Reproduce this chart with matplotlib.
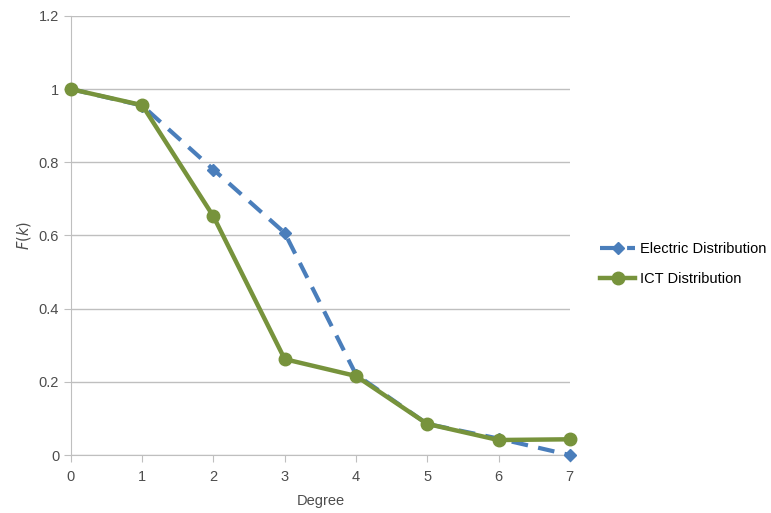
import matplotlib.pyplot as plt

plt.rcParams['font.family'] = ['Liberation Sans', 'DejaVu Sans']

degree = [0, 1, 2, 3, 4, 5, 6, 7]
electric = [1.0, 0.955, 0.78, 0.607, 0.22, 0.085, 0.045, 0.0]
ict = [1.0, 0.956, 0.652, 0.262, 0.216, 0.085, 0.041, 0.043]

fig = plt.figure(figsize=(7.71, 5.13), dpi=100)
ax = fig.add_axes([0.092, 0.113, 0.647, 0.856])

ax.plot(degree, electric, color='#4A7EBB', lw=3, ls=(0, (4, 2.5)), marker='D',
        markersize=6, label='Electric Distribution', zorder=3, clip_on=False)
ax.plot(degree, ict, color='#77933C', lw=3.2, marker='o', markersize=9,
        label='ICT Distribution', zorder=4, clip_on=False)

ax.set_xlim(0, 7)
ax.set_ylim(0, 1.2)
ax.set_xticks(degree)
ax.set_yticks([0, 0.2, 0.4, 0.6, 0.8, 1.0, 1.2])
ax.set_yticklabels(['0', '0.2', '0.4', '0.6', '0.8', '1', '1.2'])
ax.grid(axis='y', color='#BFBFBF', lw=1)
ax.set_axisbelow(True)
for s in ['top', 'right']:
    ax.spines[s].set_visible(False)
for s in ['left', 'bottom']:
    ax.spines[s].set_color('#BFBFBF')
ax.tick_params(colors='#BFBFBF', labelcolor='#4D4D4D', labelsize=10.5, length=5)
ax.tick_params(axis='x', pad=6)
ax.set_xlabel('Degree', fontsize=10.5, color='#4D4D4D', labelpad=7)
ax.set_ylabel('$F(k)$', fontsize=10.5, color='#4D4D4D')

ax.legend(loc='center left', bbox_to_anchor=(1.035, 0.435), frameon=False,
          fontsize=10.5, handlelength=2.4, handletextpad=0.3, labelspacing=1.05)

fig.savefig('out.png', dpi=100)
